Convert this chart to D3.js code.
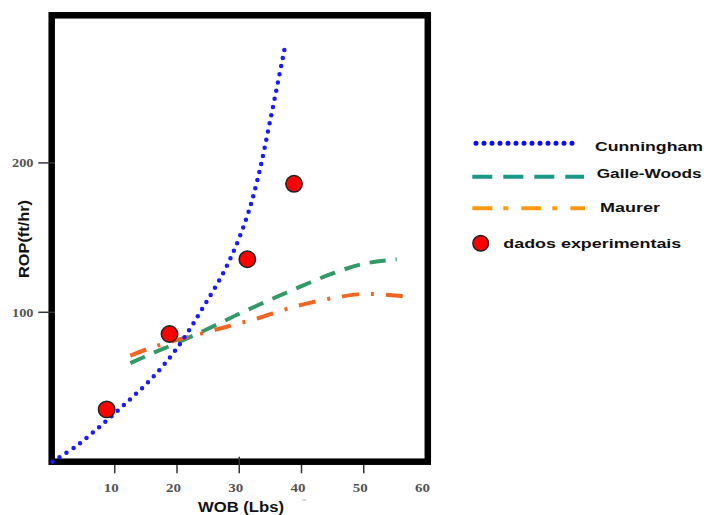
<!DOCTYPE html>
<html>
<head>
<meta charset="utf-8">
<script src="https://cdn.jsdelivr.net/npm/d3@7/dist/d3.min.js"></script>
<style>
html,body{margin:0;padding:0;background:#fff;}
svg{display:block;}
</style>
</head>
<body>
<svg id="chart" width="704" height="515"></svg>
<script>
// ---- data ----
const cunninghamX = [0, 4, 8, 12, 16, 20, 24, 28, 31, 33, 35, 37.5];
const cunninghamY = [0, 11, 25, 40, 56, 76, 102, 131, 161, 190, 229, 281];
const galleX = [12.5, 16, 20, 25, 30, 35, 40, 45, 50, 55.3];
const galleY = [66, 72.5, 79.5, 89, 99, 108.5, 117.5, 126, 132.5, 135.5];
const maurerX = [12.5, 16, 20, 25, 29, 33, 37, 41, 45, 49, 52, 55, 57.7];
const maurerY = [71, 76.5, 81.5, 87, 91.5, 96, 101.5, 106, 109.5, 112, 112.2, 111.2, 110.3];
const expX = [8.7, 18.8, 31.3, 38.8];
const expY = [35, 85.5, 135.5, 186];
const xTicks = [10, 20, 30, 40, 50, 60];
const xTickMarks = [10, 20, 30, 40, 50];
const yTicks = [100, 200];
const seriesNames = ["Cunningham", "Galle-Woods", "Maurer", "dados experimentais"];

// ---- layout ----
const svg = d3.select("#chart");
const x = d3.scaleLinear().domain([0, 60]).range([52.5, 426]);
const y = d3.scaleLinear().domain([0, 100]).range([461.7, 312.3]);

const line = d3.line().x(d => x(d[0])).y(d => y(d[1])).curve(d3.curveCatmullRom.alpha(0.5));
const zip = (a, b) => a.map((v, i) => [v, b[i]]);

// frame
svg.append("rect")
  .attr("x", 51.7).attr("y", 15.3).attr("width", 376.1).attr("height", 446.4)
  .attr("fill", "none").attr("stroke", "#000").attr("stroke-width", 6.5);

// x ticks
svg.selectAll(".xtm").data(xTickMarks).enter().append("line")
  .attr("x1", d => x(d)).attr("x2", d => x(d))
  .attr("y1", d => d === 30 ? 456.7 : 465).attr("y2", 473.3)
  .attr("stroke", "#333").attr("stroke-width", 1.5);
svg.selectAll(".xtl").data(xTicks).enter().append("text")
  .attr("x", d => x(d) - 3.5).attr("y", 491.5)
  .attr("text-anchor", "middle")
  .attr("font-family", "Liberation Serif, Times New Roman, serif")
  .attr("font-weight", "bold").attr("font-size", 13).attr("fill", "#555")
  .attr("textLength", 15).attr("lengthAdjust", "spacingAndGlyphs")
  .text(d => d);

// y ticks
svg.selectAll(".ytm").data(yTicks).enter().append("line")
  .attr("x1", 38.3).attr("x2", 55)
  .attr("y1", d => y(d)).attr("y2", d => y(d))
  .attr("stroke", "#333").attr("stroke-width", 1.5);
svg.selectAll(".ytl").data(yTicks).enter().append("text")
  .attr("x", 33.5).attr("y", d => y(d) + 4.5)
  .attr("text-anchor", "end")
  .attr("font-family", "Liberation Serif, Times New Roman, serif")
  .attr("font-weight", "bold").attr("font-size", 13).attr("fill", "#555")
  .attr("textLength", 21.5).attr("lengthAdjust", "spacingAndGlyphs")
  .text(d => d);

// axis titles
svg.append("text")
  .attr("transform", "translate(29,239) rotate(-90)")
  .attr("text-anchor", "middle")
  .attr("font-family", "Liberation Sans, Arial, sans-serif")
  .attr("font-weight", "bold").attr("font-size", 14).attr("fill", "#111")
  .attr("textLength", 78).attr("lengthAdjust", "spacingAndGlyphs")
  .text("ROP(ft/hr)");
svg.append("text")
  .attr("x", 241).attr("y", 511.5)
  .attr("text-anchor", "middle")
  .attr("font-family", "Liberation Sans, Arial, sans-serif")
  .attr("font-weight", "bold").attr("font-size", 14).attr("fill", "#111")
  .attr("textLength", 86).attr("lengthAdjust", "spacingAndGlyphs")
  .text("WOB (Lbs)");
svg.append("line").attr("x1", 302.5).attr("x2", 306).attr("y1", 500).attr("y2", 500)
  .attr("stroke", "#aaa").attr("stroke-width", 1);

// series lines
svg.append("path").datum(zip(galleX, galleY)).attr("d", line)
  .attr("fill", "none").attr("stroke", "#339966").attr("stroke-width", 4)
  .attr("stroke-dasharray", "16 10");
svg.append("path").datum(zip(maurerX, maurerY)).attr("d", line)
  .attr("fill", "none").attr("stroke", "#f26522").attr("stroke-width", 4)
  .attr("stroke-dasharray", "17 12 3 12");
svg.append("path").datum(zip(cunninghamX, cunninghamY)).attr("d", line)
  .attr("fill", "none").attr("stroke", "#1a1aff").attr("stroke-width", 4.5)
  .attr("stroke-linecap", "round").attr("stroke-dasharray", "0 8.3");

// experimental points
svg.selectAll(".pt").data(zip(expX, expY)).enter().append("circle")
  .attr("cx", d => x(d[0])).attr("cy", d => y(d[1])).attr("r", 8.2)
  .attr("fill", "#ff0000").attr("stroke", "#222").attr("stroke-width", 1.5);

// legend
const lg = svg.append("g");
lg.append("line").attr("x1", 476).attr("x2", 580).attr("y1", 143.3).attr("y2", 143.3)
  .attr("stroke", "#0a0aff").attr("stroke-width", 5).attr("stroke-linecap", "round")
  .attr("stroke-dasharray", "0 8");
lg.append("line").attr("x1", 472.3).attr("x2", 584).attr("y1", 176.7).attr("y2", 176.7)
  .attr("stroke", "#1a9988").attr("stroke-width", 4).attr("stroke-dasharray", "20 11");
lg.append("line").attr("x1", 472.3).attr("x2", 585).attr("y1", 208.3).attr("y2", 208.3)
  .attr("stroke", "#ff9a10").attr("stroke-width", 4).attr("stroke-dasharray", "20 11 5 13");
lg.append("circle").attr("cx", 480.7).attr("cy", 243.3).attr("r", 7.8)
  .attr("fill", "#ff0000").attr("stroke", "#222").attr("stroke-width", 1.5);

const legendText = [
  {x: 595, y: 151, w: 108},
  {x: 596.7, y: 178, w: 105},
  {x: 600, y: 212, w: 60},
  {x: 503.3, y: 247.5, w: 178}
];
lg.selectAll(".lt").data(legendText).enter().append("text")
  .attr("x", d => d.x).attr("y", d => d.y)
  .attr("font-family", "Liberation Sans, Arial, sans-serif")
  .attr("font-weight", "bold").attr("font-size", 13).attr("fill", "#111")
  .attr("textLength", d => d.w).attr("lengthAdjust", "spacingAndGlyphs")
  .text((d, i) => seriesNames[i]);
</script>
</body>
</html>
